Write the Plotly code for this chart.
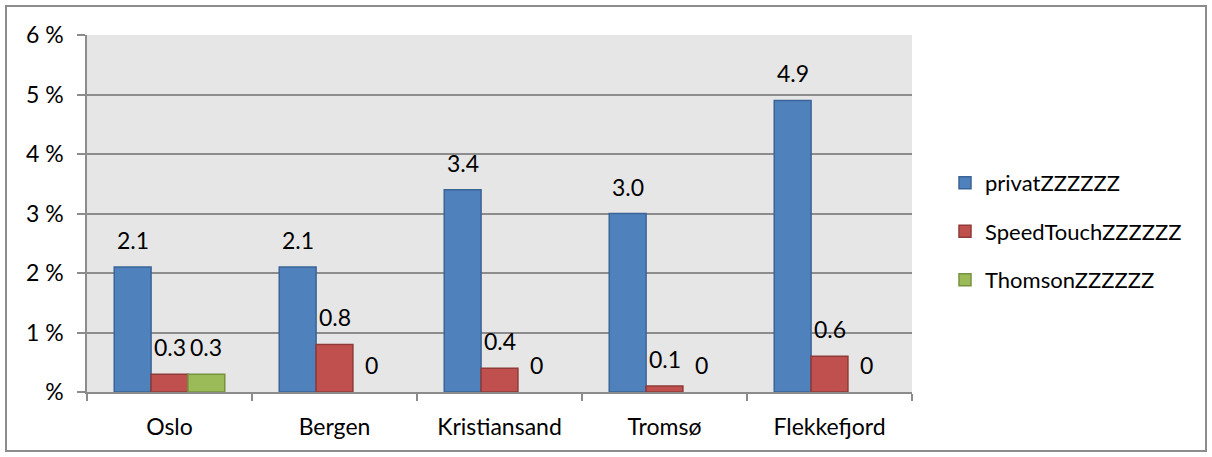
import plotly.graph_objects as go

# Share of networks per city, by router name prefix (percent)
cities = ["Oslo", "Bergen", "Kristiansand", "Tromsø", "Flekkefjord"]
privat = [2.1, 2.1, 3.4, 3.0, 4.9]
speedtouch = [0.3, 0.8, 0.4, 0.1, 0.6]
thomson = [0.3, 0, 0, 0, 0]
series_names = ["privatZZZZZZ", "SpeedTouchZZZZZZ", "ThomsonZZZZZZ"]
y_tick_vals = [0, 1, 2, 3, 4, 5, 6]
y_tick_text = ["%", "1 %", "2 %", "3 %", "4 %", "5 %", "6 %"]

fills = ["#4F81BD", "#C0504D", "#9BBB59"]
edges = ["#3A6496", "#8E3B39", "#77923F"]
label_fmt = ["{:.1f}", "{:.1f}", "{:g}"]

FONT = "Lato, 'Open Sans', sans-serif"
FS = 23
BARGAP = 0.33
all_series = [privat, speedtouch, thomson]

fig = go.Figure()
for i, (name, vals) in enumerate(zip(series_names, all_series)):
    fig.add_trace(go.Bar(
        x=cities, y=vals, name=name,
        marker=dict(
            color=fills[i],
            # no outline on empty bars
            line=dict(color=edges[i], width=[1.5 if v > 0 else 0 for v in vals]),
        ),
        legendgroup=f"g{i}",
    ))

# Value labels above each bar
bar_w = (1 - BARGAP) / len(all_series)
annotations = []
for i, vals in enumerate(all_series):
    offset = (i - (len(all_series) - 1) / 2) * bar_w
    for c, v in enumerate(vals):
        txt = label_fmt[i].format(v) if v != 0 else "0"
        annotations.append(dict(
            x=c + offset, y=v, xref="x", yref="y",
            text=txt, showarrow=False, yshift=27,
            font=dict(family=FONT, size=FS, color="#000000"),
        ))

fig.update_layout(
    width=1212, height=457,
    margin=dict(l=87, r=300, t=35, b=65),
    paper_bgcolor="#FFFFFF",
    plot_bgcolor="#E6E6E6",
    barmode="group", bargap=BARGAP, bargroupgap=0,
    font=dict(family=FONT, size=FS, color="#000000"),
    showlegend=True,
    legend=dict(
        x=(945 - 87) / 825, xanchor="left", xref="paper",
        y=0.45, yanchor="middle",
        font=dict(family=FONT, size=22, color="#000000"),
        tracegroupgap=17, itemwidth=30,
        bgcolor="rgba(0,0,0,0)",
    ),
    annotations=annotations,
    shapes=[dict(
        type="rect", xref="paper", yref="paper",
        x0=(6 - 87) / 825, x1=(1206 - 87) / 825,
        y0=(392 - 451) / 357, y1=(392 - 6) / 357,
        line=dict(color="#8C8C8C", width=2), fillcolor="rgba(0,0,0,0)",
        layer="below",
    )],
)

fig.update_xaxes(
    type="category", showgrid=False,
    showline=True, linecolor="#8C8C8C", linewidth=1.5,
    ticks="outside", tickson="boundaries", ticklen=7, tickcolor="#8C8C8C",
    tickwidth=1.5, ticklabelstandoff=14,
    tickfont=dict(family=FONT, size=FS),
)
fig.update_yaxes(
    range=[0, 6], tickvals=y_tick_vals, ticktext=y_tick_text,
    showgrid=True, gridcolor="#8C8C8C", gridwidth=1.5,
    showline=True, linecolor="#8C8C8C", linewidth=1.5,
    ticks="outside", ticklen=8, tickcolor="#8C8C8C", tickwidth=1.5,
    ticklabelstandoff=9, zeroline=False,
    tickfont=dict(family=FONT, size=FS),
)

fig.write_html("out.html")
